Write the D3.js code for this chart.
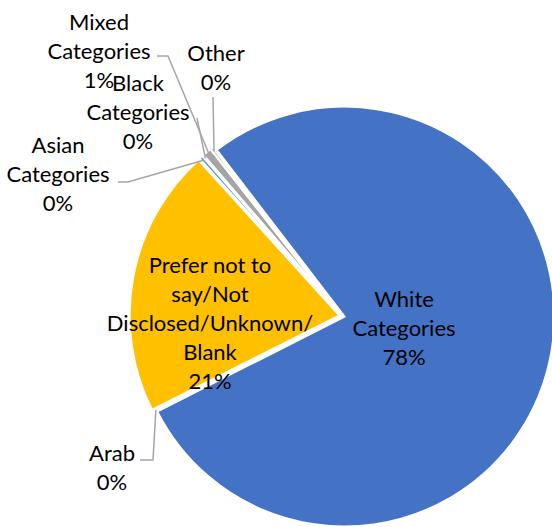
<!DOCTYPE html>
<html>
<head>
<meta charset="utf-8">
<script src="https://cdn.jsdelivr.net/npm/d3@7"></script>
<style>
  html, body { margin: 0; padding: 0; background: #fff; }
  svg { display: block; }
  text { font-family: Lato, "Open Sans", sans-serif; fill: #000; }
</style>
</head>
<body>
<svg id="chart" width="552" height="527"></svg>
<script>
// Ethnicity breakdown, clockwise from the top-left edge of the largest slice.
const categories = [
  "White Categories",
  "Arab",
  "Prefer not to say/Not Disclosed/Unknown/Blank",
  "Asian Categories",
  "Black Categories",
  "Mixed Categories",
  "Other"
];
// Label text as wrapped on the chart.
const labelLines = [
  ["White", "Categories"],
  ["Arab"],
  ["Prefer not to", "say/Not", "Disclosed/Unknown/", "Blank"],
  ["Asian", "Categories"],
  ["Black", "Categories"],
  ["Mixed", "Categories"],
  ["Other"]
];
// Share of total, in percent.
const values = [77.95, 0.05, 20.7, 0.3, 0.1, 0.7, 0.2];
const colors = ["#4472C4", "#ED7D31", "#FFC000", "#5B9BD5", "#264478", "#A5A5A5", "#8C8C8C"];

const W = 552, H = 527;
const cx = 342, cy = 316, R = 210;
const explode = 2.5;
const fontSize = 22, lineH = 29;

// Label placement: centre x, first baseline, and where the leader line leaves the label.
const labelLayout = {
  "White Categories": { x: 404, y: 307, inside: true },
  "Prefer not to say/Not Disclosed/Unknown/Blank": { x: 210, y: 273, inside: true },
  "Arab": { x: 112, y: 461, leader: [[140, 460], [153, 460]] },
  "Asian Categories": { x: 58, y: 153, leader: [[118, 182], [128, 182]] },
  "Black Categories": { x: 138, y: 91, leader: [[197, 118]] },
  "Mixed Categories": { x: 99, y: 30, leader: [[157, 56], [168, 56]] },
  "Other": { x: 216, y: 61, leader: [[213, 97]] }
};

const fmt = d3.format(".0%");
const startOffset = -37.5 * Math.PI / 180;

const pie = d3.pie()
  .sort(null)
  .value(d => d.value)
  .startAngle(startOffset)
  .endAngle(startOffset + 2 * Math.PI);

const data = categories.map((c, i) => ({
  name: c, value: values[i], color: colors[i], lines: labelLines[i]
}));
const arcs = pie(data);

const arc = d3.arc().innerRadius(0).outerRadius(R);

const svg = d3.select("#chart");
const g = svg.append("g").attr("transform", `translate(${cx},${cy})`);

// Each slice is pulled slightly outward along its bisector.
function offset(a) {
  const m = (a.startAngle + a.endAngle) / 2;
  return [Math.sin(m) * explode, -Math.cos(m) * explode];
}

g.selectAll("path.slice")
  .data(arcs)
  .join("path")
  .attr("class", "slice")
  .attr("transform", d => { const o = offset(d); return `translate(${o[0]},${o[1]})`; })
  .attr("d", arc)
  .attr("fill", d => d.data.color)
  .attr("stroke", "#fff")
  .attr("stroke-width", 2.2)
  .attr("stroke-linejoin", "miter");

// Leader lines from outside labels to the slice edge.
const line = d3.line();
arcs.forEach(a => {
  const lay = labelLayout[a.data.name];
  if (!lay.leader) return;
  const m = (a.startAngle + a.endAngle) / 2;
  const o = offset(a);
  const tip = [cx + o[0] + Math.sin(m) * (R - 4), cy + o[1] - Math.cos(m) * (R - 4)];
  svg.append("path")
    .attr("d", line(lay.leader.concat([tip])))
    .attr("fill", "none")
    .attr("stroke", "#A6A6A6")
    .attr("stroke-width", 1.5);
});

// Labels: category name lines followed by the rounded percentage.
const total = d3.sum(values);
arcs.forEach(a => {
  const lay = labelLayout[a.data.name];
  const lines = a.data.lines.concat([fmt(a.data.value / total)]);
  const t = svg.append("text")
    .attr("text-anchor", "middle")
    .attr("font-size", fontSize);
  lines.forEach((s, i) => {
    t.append("tspan")
      .attr("x", lay.x)
      .attr("y", lay.y + i * lineH)
      .text(s);
  });
});
</script>
</body>
</html>
